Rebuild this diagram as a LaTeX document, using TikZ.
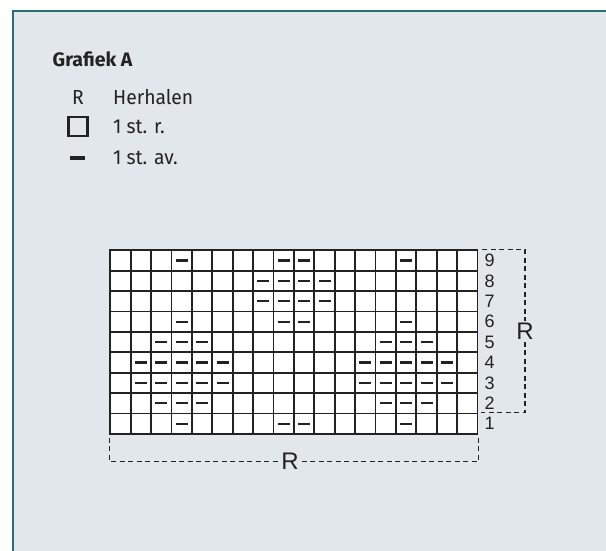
\documentclass[tikz,border=0pt]{standalone}
\usepackage{fontspec}
\setmainfont{Liberation Sans}
\newfontfamily\legendfont[FakeStretch=0.95]{Fira Sans}
\newfontfamily\titlefont[FakeStretch=1.0]{Fira Sans}
\usetikzlibrary{positioning,calc}
\definecolor{panelbg}{HTML}{E1E7EA}
\definecolor{panelrim}{HTML}{2D6D77}
\definecolor{ink}{HTML}{222222}

\begin{document}
\begin{tikzpicture}[x=1pt,y=-1pt,
      cell/.style={draw=ink,fill=white,line width=1.7pt,minimum size=20.4pt,inner sep=0pt},
      purl/.style={ink,line width=2.2pt},
      bracket/.style={ink,line width=1.2pt,dash pattern=on 5pt off 3.5pt},
      rownum/.style={anchor=west,inner sep=0pt,font=\fontsize{18}{18}\selectfont,text=ink},
      replabel/.style={inner sep=2pt,font=\fontsize{24}{24}\selectfont,text=ink},
      legtext/.style={anchor=base west,inner sep=0pt,font=\legendfont\fontsize{20.3}{20}\selectfont,text=ink}]
    
     \useasboundingbox (0,0) rectangle (606,550);
     \clip (0,0) rectangle (606,550);
     \draw[panelrim,fill=panelbg,line width=2pt] (13,11) rectangle (640,580);
    
     % legend
     \node[legtext,font=\titlefont\bfseries\fontsize{19.5}{20}\selectfont] (title) at (52.5,66) {Grafiek A};
     \node[legtext] (keyR) at (72,104) {R};
     \node[legtext] (keyRtext) at (113,104) {Herhalen};
     \node[draw=ink,line width=2.4pt,minimum size=19pt,inner sep=0pt] (keybox) at (78,126.5) {};
     \node[legtext] (keyboxtext) at (113,133) {1 st. r.};
     \coordinate (keydash) at (77.5,158);
     \node[legtext] (keydashtext) at (113,164) {1 st. av.};
     \draw[ink,line width=3.5pt] ([xshift=-7.5pt]keydash) -- ([xshift=7.5pt]keydash);
    
     % chart cells
     \foreach \r in {1,...,9}
       \foreach \c in {1,...,18}
         \node[cell] (c-\r-\c) at ({110.3+20.4*(\c-0.5)},{250.3+20.4*(9.5-\r)}) {};
    
     \foreach \r/\cols in {1/{4,9,10,15},2/{3,4,5,14,15,16},3/{2,3,4,5,6,13,14,15,16,17},
         4/{2,3,4,5,6,13,14,15,16,17},5/{3,4,5,14,15,16},6/{4,9,10,15},
         7/{8,9,10,11},8/{8,9,10,11},9/{4,9,10,15}}
       \foreach \c in \cols
         \draw[purl] ([xshift=-6pt]c-\r-\c.center) -- ([xshift=6pt]c-\r-\c.center);
    
     % row numbers
     \foreach \r in {1,...,9}
       \node[rownum] (rn-\r) at ([xshift=6pt]c-\r-18.east) {\r};
    
     % repeat brackets
     \node[replabel] (sideR) at (525,331.5) {R};
     \draw[bracket] ([xshift=4pt]c-9-18.north east) -| (sideR.north);
     \draw[bracket] (sideR.south) |- ([xshift=3pt]c-1-18.north east);
    
     \node[replabel] (baseR) at (290,461.5) {R};
     \draw[bracket] ([yshift=-3pt]c-1-1.south west) |- (baseR.west);
     \draw[bracket] ([yshift=-3pt]c-1-18.south east) |- (baseR.east);
	 
    \end{tikzpicture}
\end{document}
